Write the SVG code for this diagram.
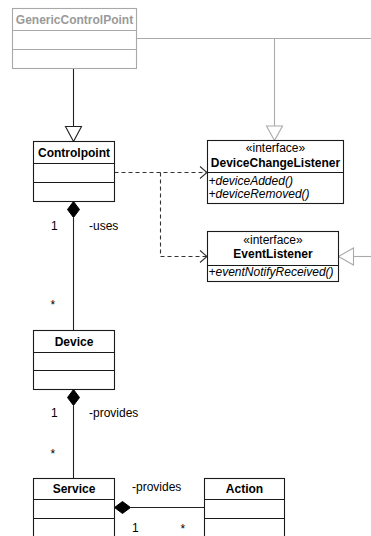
<svg xmlns="http://www.w3.org/2000/svg" width="371" height="536" viewBox="0 0 371 536">
  <style>
    text { font-family: "Liberation Sans", Arial, sans-serif; font-size: 12px; fill: #000; }
    .title { font-weight: bold; text-anchor: middle; }
    .stereo { text-anchor: middle; }
    .op { font-style: italic; }
    .box { fill: #fff; stroke: #1a1a1a; stroke-width: 1.1; }
    .sep { stroke: #1a1a1a; stroke-width: 1.1; }
    .gbox { fill: #fff; stroke: #a8a8a8; stroke-width: 1.1; }
    .gsep { stroke: #a8a8a8; stroke-width: 1.1; }
    .gtitle { fill: #9a9a9a; }
    .line { fill: none; stroke: #222; stroke-width: 1.1; }
    .gline { fill: none; stroke: #aaa; stroke-width: 1.1; }
    .dash { fill: none; stroke: #333; stroke-width: 1.1; stroke-dasharray: 4 3; }
    .head { fill: #fff; stroke: #222; stroke-width: 1.1; }
    .ghead { fill: #fff; stroke: #aaa; stroke-width: 1.1; }
    .open { fill: none; stroke: #333; stroke-width: 1.1; }
    .diamond { fill: #000; stroke: #000; stroke-width: 1; }
  </style>

  <!-- connectors -->
  <g id="connectors">
    <!-- GenericControlPoint to the interfaces (grey) -->
    <polyline class="gline" points="136.5,38.5 371,38.5"/>
    <line class="gline" x1="274.5" y1="38.5" x2="274.5" y2="126"/>
    <polygon class="ghead" points="274.5,140.5 266.5,126 282.5,126"/>
    <line class="gline" x1="353.5" y1="256.5" x2="371" y2="256.5"/>
    <polygon class="ghead" points="338.5,256.5 353.5,248 353.5,265"/>

    <!-- Controlpoint extends GenericControlPoint -->
    <line class="line" x1="73.5" y1="68.5" x2="73.5" y2="126.5"/>
    <polygon class="head" points="73.5,141.5 65.5,126.5 81.5,126.5"/>

    <!-- dependencies on the listeners -->
    <polyline class="dash" points="114.5,172.5 206,172.5"/>
    <polyline class="open" points="200,166.5 207,172.5 200,178.5"/>
    <polyline class="dash" points="160.5,172.5 160.5,256.5 206,256.5"/>
    <polyline class="open" points="200,250.5 207,256.5 200,262.5"/>

    <!-- Controlpoint uses Device -->
    <polygon class="diamond" points="73.5,201.5 79.5,209.5 73.5,217.5 67.5,209.5"/>
    <line class="line" x1="73.5" y1="217.5" x2="73.5" y2="330.5"/>
    <text x="51" y="230">1</text>
    <text x="89" y="230">-uses</text>
    <text x="50.5" y="309">*</text>

    <!-- Device provides Service -->
    <polygon class="diamond" points="73.5,389.5 79.5,397.5 73.5,405.5 67.5,397.5"/>
    <line class="line" x1="73.5" y1="405.5" x2="73.5" y2="478.5"/>
    <text x="51" y="417">1</text>
    <text x="89" y="417">-provides</text>
    <text x="50.5" y="458">*</text>

    <!-- Service provides Action -->
    <polygon class="diamond" points="114.5,507.5 122.5,501.5 130.5,507.5 122.5,513.5"/>
    <line class="line" x1="130.5" y1="507.5" x2="204.5" y2="507.5"/>
    <text x="132" y="491">-provides</text>
    <text x="132" y="532">1</text>
    <text x="180.5" y="533">*</text>
  </g>

  <g id="GenericControlPoint">
    <rect class="gbox" x="12.5" y="8.5" width="124" height="60"/>
    <line class="gsep" x1="12.5" y1="30.5" x2="136.5" y2="30.5"/>
    <line class="gsep" x1="12.5" y1="49.5" x2="136.5" y2="49.5"/>
    <text class="title gtitle" x="74.5" y="23.5">GenericControlPoint</text>
  </g>

  <g id="Controlpoint">
    <rect class="box" x="33.5" y="141.5" width="81" height="60"/>
    <line class="sep" x1="33.5" y1="163.5" x2="114.5" y2="163.5"/>
    <line class="sep" x1="33.5" y1="182.5" x2="114.5" y2="182.5"/>
    <text class="title" x="74" y="157">Controlpoint</text>
  </g>

  <g id="DeviceChangeListener">
    <rect class="box" x="207.5" y="140.5" width="136" height="63"/>
    <line class="sep" x1="207.5" y1="172.5" x2="343.5" y2="172.5"/>
    <text class="stereo" x="275.5" y="152">«interface»</text>
    <text class="title" x="275.5" y="167">DeviceChangeListener</text>
    <text class="op" x="208.5" y="184.5">+deviceAdded()</text>
    <text class="op" x="208.5" y="197.5">+deviceRemoved()</text>
  </g>

  <g id="EventListener">
    <rect class="box" x="207.5" y="231.5" width="131" height="50"/>
    <line class="sep" x1="207.5" y1="265.5" x2="338.5" y2="265.5"/>
    <text class="stereo" x="273" y="243.5">«interface»</text>
    <text class="title" x="273" y="257.5">EventListener</text>
    <text class="op" x="208.5" y="276">+eventNotifyReceived()</text>
  </g>

  <g id="Device">
    <rect class="box" x="33.5" y="330.5" width="81" height="59"/>
    <line class="sep" x1="33.5" y1="352.5" x2="114.5" y2="352.5"/>
    <line class="sep" x1="33.5" y1="370.5" x2="114.5" y2="370.5"/>
    <text class="title" x="74" y="345.5">Device</text>
  </g>

  <g id="Service">
    <rect class="box" x="33.5" y="478.5" width="81" height="70"/>
    <line class="sep" x1="33.5" y1="499.5" x2="114.5" y2="499.5"/>
    <line class="sep" x1="33.5" y1="518.5" x2="114.5" y2="518.5"/>
    <text class="title" x="74" y="493">Service</text>
  </g>

  <g id="Action">
    <rect class="box" x="204.5" y="478.5" width="80" height="70"/>
    <line class="sep" x1="204.5" y1="499.5" x2="284.5" y2="499.5"/>
    <line class="sep" x1="204.5" y1="518.5" x2="284.5" y2="518.5"/>
    <text class="title" x="244.5" y="493">Action</text>
  </g>
</svg>
